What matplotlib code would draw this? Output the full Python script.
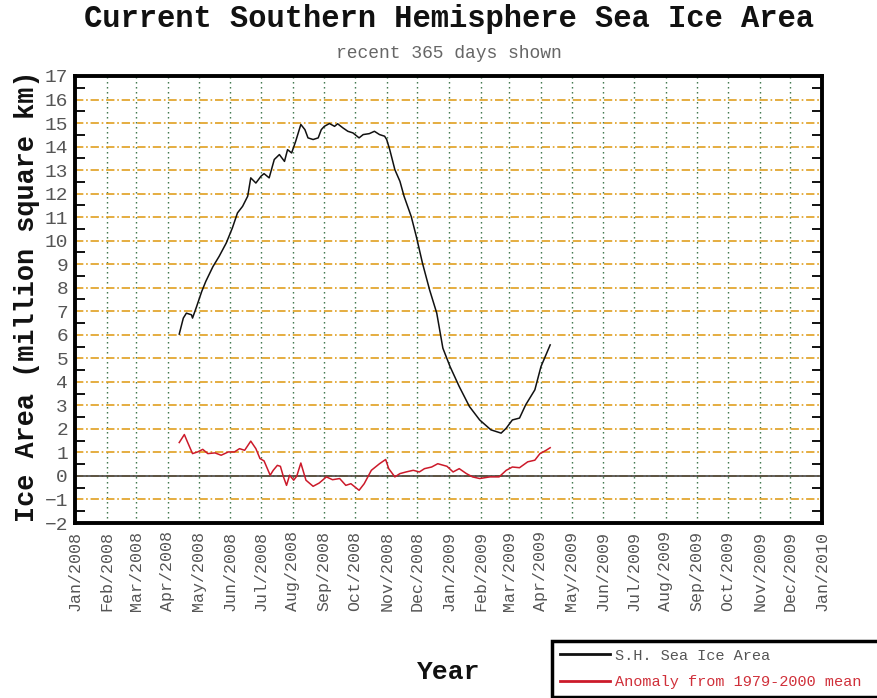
import matplotlib
matplotlib.use("Agg")
import matplotlib.pyplot as plt
import matplotlib.dates as mdates
import pandas as pd
import numpy as np

# daily sea ice area (million km^2), sampled along the record
area_dates = ["2008-04-12", "2008-04-16", "2008-04-19", "2008-04-24", "2008-04-25", "2008-04-29",
              "2008-05-04", "2008-05-08", "2008-05-15", "2008-05-21", "2008-05-28", "2008-06-03",
              "2008-06-08", "2008-06-13", "2008-06-18", "2008-06-21", "2008-06-26", "2008-07-01",
              "2008-07-04", "2008-07-09", "2008-07-14", "2008-07-19", "2008-07-24", "2008-07-27",
              "2008-07-31", "2008-08-04", "2008-08-09", "2008-08-13", "2008-08-16", "2008-08-21",
              "2008-08-26", "2008-08-29", "2008-09-01", "2008-09-06", "2008-09-11", "2008-09-14",
              "2008-09-19", "2008-09-24", "2008-09-29", "2008-10-05", "2008-10-09", "2008-10-15",
              "2008-10-20", "2008-10-25", "2008-10-30", "2008-11-01", "2008-11-04", "2008-11-09",
              "2008-11-14", "2008-11-18", "2008-11-25", "2008-11-30", "2008-12-06", "2008-12-13",
              "2008-12-20", "2008-12-26", "2009-01-02", "2009-01-11", "2009-01-21", "2009-01-31",
              "2009-02-11", "2009-02-21", "2009-02-26", "2009-03-04", "2009-03-11", "2009-03-17",
              "2009-03-26", "2009-04-01", "2009-04-10"]
area = [6.03, 6.71, 6.92, 6.85, 6.71, 7.2, 7.84, 8.27, 8.9, 9.33, 9.9, 10.54, 11.18, 11.46,
        11.89, 12.67, 12.45, 12.74, 12.85, 12.67, 13.45, 13.66, 13.37, 13.87, 13.73, 14.23,
        14.94, 14.72, 14.37, 14.3, 14.37, 14.72, 14.86, 14.98, 14.86, 14.97, 14.8, 14.65,
        14.58, 14.37, 14.51, 14.55, 14.65, 14.51, 14.44, 14.3, 13.87, 13.02, 12.52, 11.89,
        11.03, 10.18, 9.05, 7.91, 6.92, 5.43, 4.65, 3.8, 2.95, 2.38, 1.96, 1.82, 2.03, 2.38,
        2.46, 3.02, 3.66, 4.65, 5.57]

# anomaly from the 1979-2000 mean
anom_dates = ["2008-04-12", "2008-04-17", "2008-04-20", "2008-04-25", "2008-04-30", "2008-05-05",
              "2008-05-10", "2008-05-17", "2008-05-23", "2008-05-30", "2008-06-05", "2008-06-10",
              "2008-06-15", "2008-06-21", "2008-06-26", "2008-06-30", "2008-07-04", "2008-07-10",
              "2008-07-13", "2008-07-17", "2008-07-20", "2008-07-23", "2008-07-26", "2008-07-29",
              "2008-08-02", "2008-08-05", "2008-08-09", "2008-08-14", "2008-08-21", "2008-08-27",
              "2008-09-03", "2008-09-09", "2008-09-16", "2008-09-22", "2008-09-27", "2008-10-01",
              "2008-10-05", "2008-10-10", "2008-10-17", "2008-10-25", "2008-10-31", "2008-11-03",
              "2008-11-09", "2008-11-14", "2008-11-20", "2008-11-27", "2008-12-03", "2008-12-08",
              "2008-12-15", "2008-12-21", "2008-12-30", "2009-01-05", "2009-01-11", "2009-01-18",
              "2009-01-24", "2009-01-31", "2009-02-10", "2009-02-19", "2009-02-26", "2009-03-04",
              "2009-03-11", "2009-03-19", "2009-03-26", "2009-03-31", "2009-04-06", "2009-04-10"]
anomaly = [1.42, 1.76, 1.45, 0.95, 1.02, 1.13, 0.95, 0.98, 0.88, 1.02, 1.02, 1.16, 1.09, 1.48,
           1.16, 0.74, 0.64, 0.03, 0.24, 0.45, 0.41, -0.04, -0.40, 0.03, -0.18, -0.01, 0.55,
           -0.18, -0.44, -0.30, -0.04, -0.16, -0.11, -0.40, -0.33, -0.47, -0.61, -0.33, 0.24,
           0.52, 0.70, 0.31, -0.04, 0.10, 0.17, 0.24, 0.17, 0.31, 0.38, 0.52, 0.41, 0.17, 0.31,
           0.10, -0.04, -0.11, -0.04, -0.04, 0.24, 0.38, 0.35, 0.60, 0.67, 0.95, 1.09, 1.20]

series_labels = ["S.H. Sea Ice Area", "Anomaly from 1979-2000 mean"]

mono = "Liberation Mono"
plt.rcParams["font.family"] = [mono, "DejaVu Sans Mono"]
plt.rcParams["lines.scale_dashes"] = False

fig = plt.figure(figsize=(8.78, 6.98), dpi=100)
ax = fig.add_axes([75 / 878, 1 - 523 / 698, 747 / 878, 447 / 698])

ax.set_xlim(pd.Timestamp("2008-01-01"), pd.Timestamp("2010-01-01"))
ax.set_ylim(-2, 17)

# grid: dotted green on months, dash-dot orange on whole numbers
ax.xaxis.set_major_locator(mdates.MonthLocator())
ax.xaxis.set_major_formatter(mdates.DateFormatter("%b/%Y"))
ax.yaxis.set_major_locator(plt.MultipleLocator(1))
ax.yaxis.set_minor_locator(plt.FixedLocator(np.arange(-1.5, 17, 1)))
ax.grid(axis="x", color="#2f6b3c", linewidth=1.0, linestyle=(0, (1, 2.6)))
ax.grid(axis="y", color="#e0a020", linewidth=1.2, linestyle=(0, (6, 2, 1.2, 2)))
ax.set_axisbelow(True)

ax.axhline(0, color="#444444", linewidth=1.2, zorder=2)

area_line, = ax.plot(pd.to_datetime(area_dates), area, color="#111111", linewidth=1.1, zorder=3)
anom_line, = ax.plot(pd.to_datetime(anom_dates), anomaly, color="#cc1a2a", linewidth=1.1, zorder=3)

ax.tick_params(axis="x", which="major", length=0, pad=6, labelrotation=90,
               labelsize=12, labelcolor="#555555")
ax.tick_params(axis="y", which="major", length=0, pad=5, labelsize=14, labelcolor="#555555")
ax.tick_params(axis="y", which="minor", direction="in", length=7, width=1.4,
               left=True, right=True, color="#111111")
ax.yaxis.set_major_formatter(plt.FuncFormatter(lambda v, p: f"{int(v)}".replace("-", "\u2212")))

for s in ax.spines.values():
    s.set_linewidth(2.8)
    s.set_color("#000000")

fig.text(0.511, 1 - 19 / 698, "Current Southern Hemisphere Sea Ice Area", ha="center",
         va="center", fontsize=22, fontweight="bold", color="#111111")
fig.text(0.511, 1 - 54 / 698, "recent 365 days shown", ha="center", va="center",
         fontsize=13, color="#666666")
fig.text(27 / 878, 1 - 296 / 698, "Ice Area (million square km)", rotation=90, ha="center",
         va="center", fontsize=19.4, fontweight="bold", color="#111111")
fig.text(449 / 878, 1 - 672 / 698, "Year", ha="center", va="center", fontsize=19,
         fontweight="bold", color="#111111")

# legend box runs off the lower right corner of the figure
leg = fig.legend(handles=[area_line, anom_line], labels=series_labels, loc="upper left",
                 bbox_to_anchor=(552 / 878, 1 - 641 / 698 - 0.2, 0.42, 0.2), mode="expand",
                 borderaxespad=0, fontsize=11, handlelength=3.3, handletextpad=0.3,
                 labelspacing=0.8, borderpad=0.5, fancybox=False, framealpha=1)
leg.get_frame().set_edgecolor("#000000")
leg.get_frame().set_linewidth(2.5)
leg.get_texts()[0].set_color("#555555")
leg.get_texts()[1].set_color("#d0303a")
for ln in leg.get_lines():
    ln.set_linewidth(2)

fig.savefig("out.png", dpi=100)
